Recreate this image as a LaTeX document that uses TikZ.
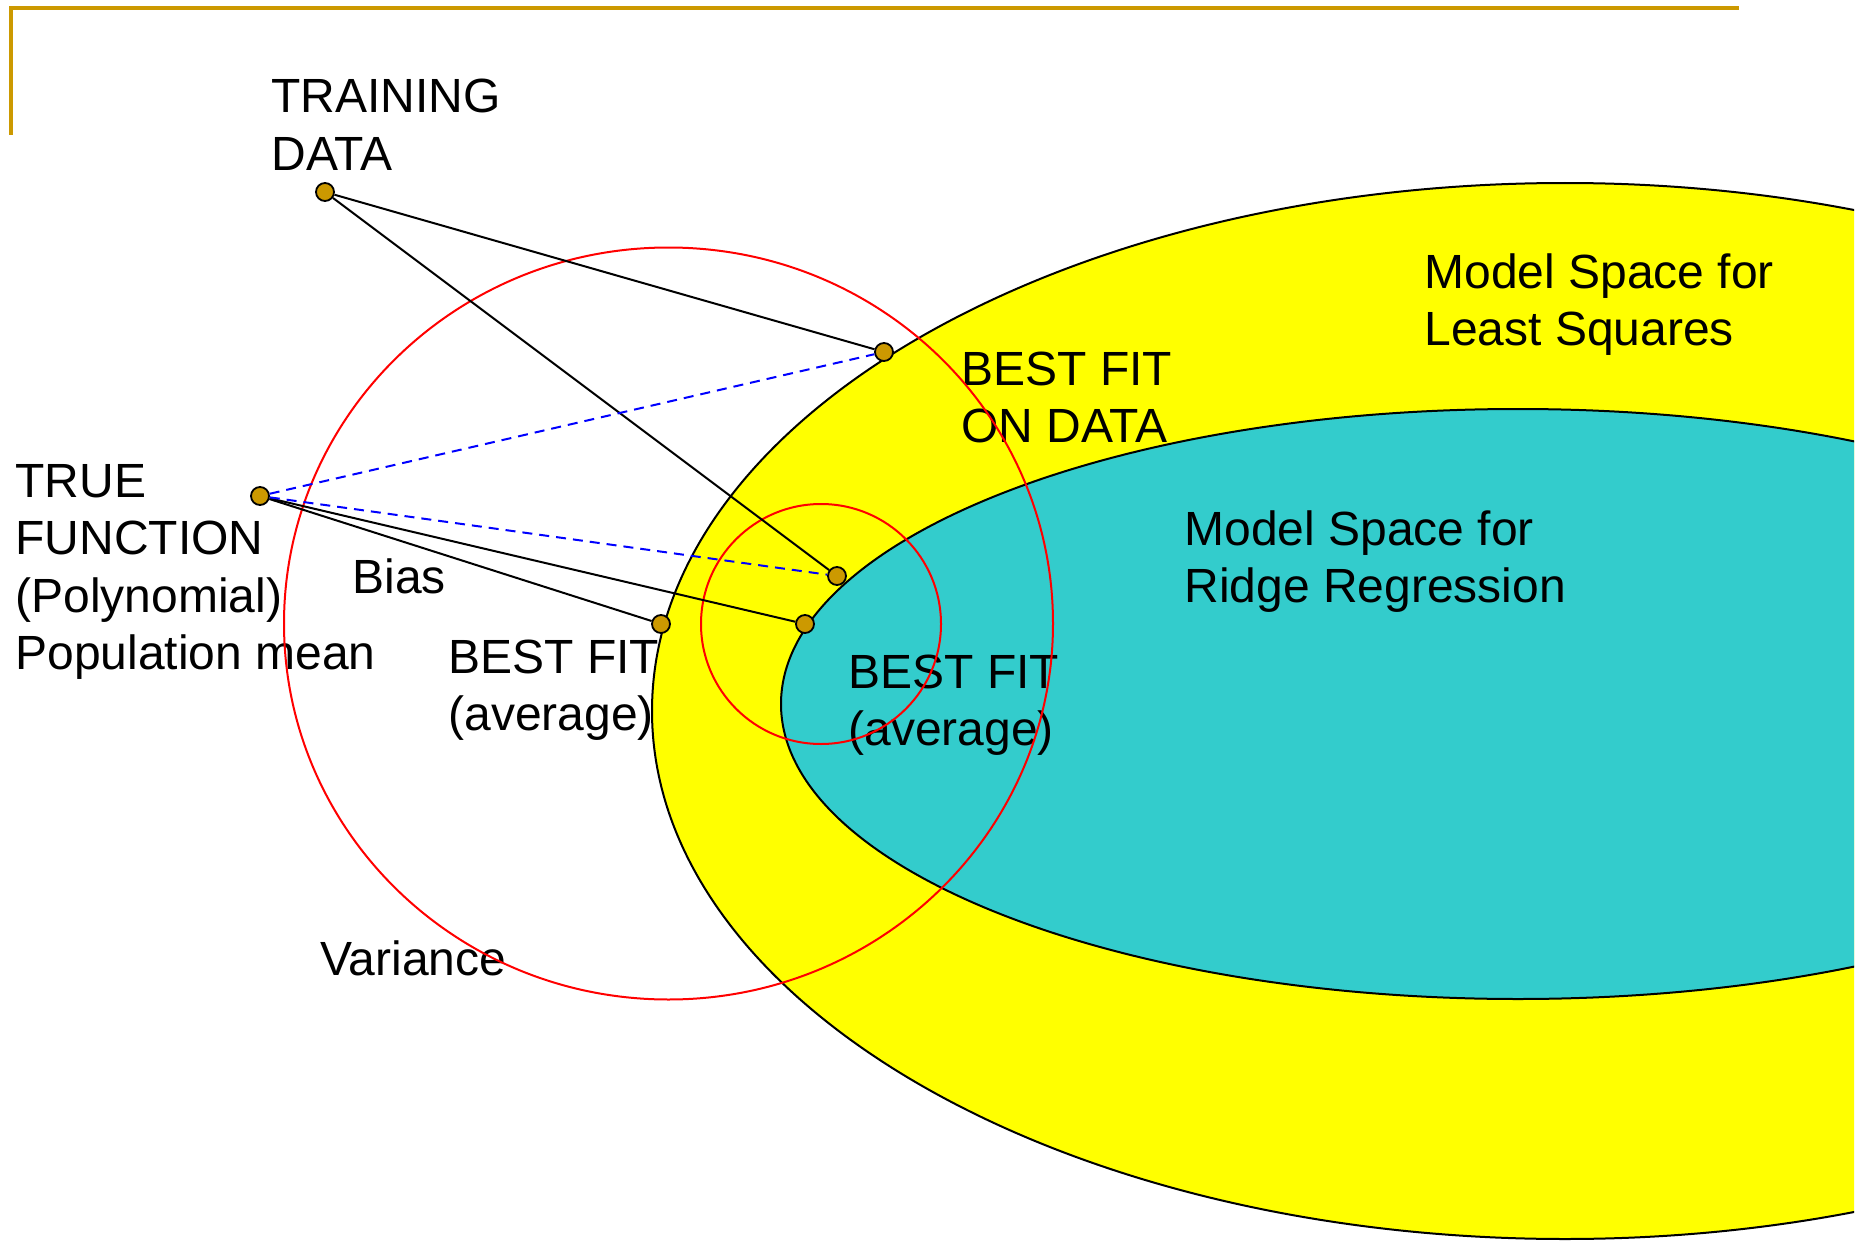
\documentclass[tikz,border=0pt]{standalone}
\usepackage{fontspec}
\setmainfont{Liberation Sans}
\definecolor{mygold}{RGB}{204,153,0}
\definecolor{myteal}{RGB}{51,204,204}
\definecolor{myyellow}{RGB}{255,255,0}
\begin{document}
\begin{tikzpicture}[x=0.5pt,y=-0.5pt,
  dot/.style={circle,draw=black,line width=0.9pt,fill=mygold,minimum size=9pt,inner sep=0pt},
  lbl/.style={anchor=base west,inner sep=0pt,align=left,font=\fontsize{24}{28.8}\selectfont},
  conn/.style={line width=1pt,black},
  dashconn/.style={line width=1pt,blue,dash pattern=on 5pt off 3.5pt},
  redc/.style={draw=red,line width=1pt},
  region/.style={draw=black,line width=1pt}]
\useasboundingbox (0,0) rectangle (1859,1252);
% frame
\draw[mygold,line width=1.6pt] (11,135) -- (11,8) -- (1739,8);
% model spaces
\begin{scope}
  \clip (0,0) rectangle (1854,1252);
  \draw[region,fill=myyellow] (1565,711) ellipse [x radius=913,y radius=528];
  \draw[region,fill=myteal] (1518,704) ellipse [x radius=737,y radius=295];
\end{scope}
% labels (anchor = baseline of the last line)
\node[lbl] (tdl) at (271,170.6) {TRAINING\\DATA};
\node[lbl] (tfl) at (15,669.8) {TRUE\\FUNCTION\\(Polynomial)\\Population mean};
\node[lbl] (bias) at (352,593) {Bias};
\node[lbl] (bfal) at (448,730.6) {BEST FIT\\(average)};
\node[lbl] (bfdl) at (961,442.6) {BEST FIT\\ON DATA};
\node[lbl] (lsl) at (1424,345.6) {Model Space for\\Least Squares};
\node[lbl] (rrl) at (1184,602.6) {Model Space for\\Ridge Regression};
\node[lbl] (bfbl) at (848,745.6) {BEST FIT\\(average)};
\node[lbl] (var) at (320,975) {Variance};
% variance circles
\draw[redc] (668.5,623.5) ellipse [x radius=384.5,y radius=376];
\draw[redc] (821,624) ellipse [x radius=120,y radius=120];
% dots
\node[dot] (td) at (325,192) {};
\node[dot] (tf) at (260,496) {};
\node[dot] (bfd) at (884,352) {};
\node[dot] (d4) at (837,576) {};
\node[dot] (bfa1) at (661,624) {};
\node[dot] (bfa2) at (805,624) {};
% connectors
\draw[conn] (td) -- (bfd);
\draw[conn] (td) -- (d4);
\draw[conn] (tf) -- (bfa1);
\draw[conn] (tf) -- (bfa2);
\draw[dashconn] (tf) -- (bfd);
\draw[dashconn] (tf) -- (d4);
\end{tikzpicture}
\end{document}
